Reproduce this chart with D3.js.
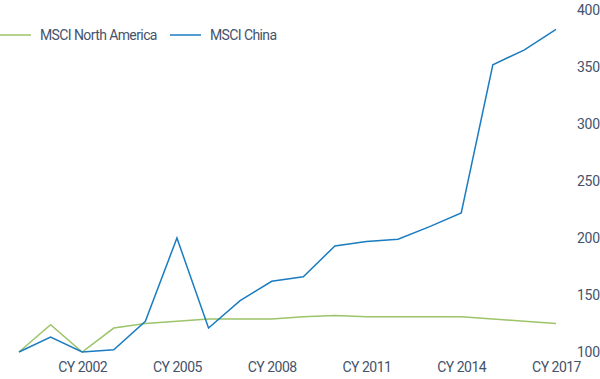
<!DOCTYPE html>
<html>
<head>
<meta charset="utf-8">
<script src="https://cdn.jsdelivr.net/npm/d3@7"></script>
<style>
  html, body { margin: 0; padding: 0; background: #fff; }
  svg { display: block; }
  text { font-family: Roboto, "Open Sans", sans-serif; fill: #44536a; letter-spacing: -0.5px; }
</style>
</head>
<body>
<svg id="chart" width="600" height="379"></svg>
<script>
const years = [2000,2001,2002,2003,2004,2005,2006,2007,2008,2009,2010,2011,2012,2013,2014,2015,2016,2017];
const northAmerica = [100,124,100,121,125,127,129,129,129,131,132,131,131,131,131,129,127,125];
const china = [100,113,100,102,127,200,121,145,162,166,193,197,199,210,222,352,365,383];
const yTicks = [100,150,200,250,300,350,400];
const xTickYears = [2002,2005,2008,2011,2014,2017];
const seriesNames = ["MSCI North America", "MSCI China"];
const seriesColors = ["#9cc46a", "#1a7cc1"];

const svg = d3.select("#chart");
const x = d3.scalePoint().domain(years).range([19, 556]);
const y = d3.scaleLinear().domain([100, 400]).range([352, 10]);

// Y axis (right side, labels only)
const yAxis = d3.axisRight(y).tickValues(yTicks).tickSize(0).tickPadding(0);
svg.append("g").attr("transform", "translate(577,0)").call(yAxis)
  .call(g => g.select(".domain").remove())
  .call(g => g.selectAll("text").style("font-size", "14px").attr("fill", "#44536a")
    .style("font-family", "Roboto, sans-serif").style("letter-spacing", "-0.3px").attr("dy", "0.35em"));

// X axis (labels only)
const xAxis = d3.axisBottom(x).tickValues(xTickYears).tickSize(0).tickPadding(0)
  .tickFormat(d => "CY " + d);
svg.append("g").attr("transform", "translate(0,362)").call(xAxis)
  .call(g => g.select(".domain").remove())
  .call(g => g.selectAll("text").style("font-size", "14px").attr("fill", "#44536a")
    .style("font-family", "Roboto, sans-serif").style("letter-spacing", "-0.5px").attr("dy", "0.71em"));

const line = d3.line().x((d, i) => x(years[i])).y(d => y(d));
[northAmerica, china].forEach((vals, k) => {
  svg.append("path").datum(vals)
    .attr("d", line)
    .attr("fill", "none")
    .attr("stroke", seriesColors[k])
    .attr("stroke-width", 1.5)
    .attr("stroke-linejoin", "miter");
});

// Legend
const legendX = [0, 170];
seriesNames.forEach((name, k) => {
  const g = svg.append("g").attr("transform", `translate(${legendX[k]},35)`);
  g.append("line").attr("x1", 0).attr("x2", 31).attr("y1", 0).attr("y2", 0)
    .attr("stroke", seriesColors[k]).attr("stroke-width", 1.5);
  g.append("text").attr("x", 40).attr("y", 0).attr("dy", "0.35em")
    .style("font-size", "14px").style("letter-spacing", "-0.6px").text(name);
});
</script>
</body>
</html>
